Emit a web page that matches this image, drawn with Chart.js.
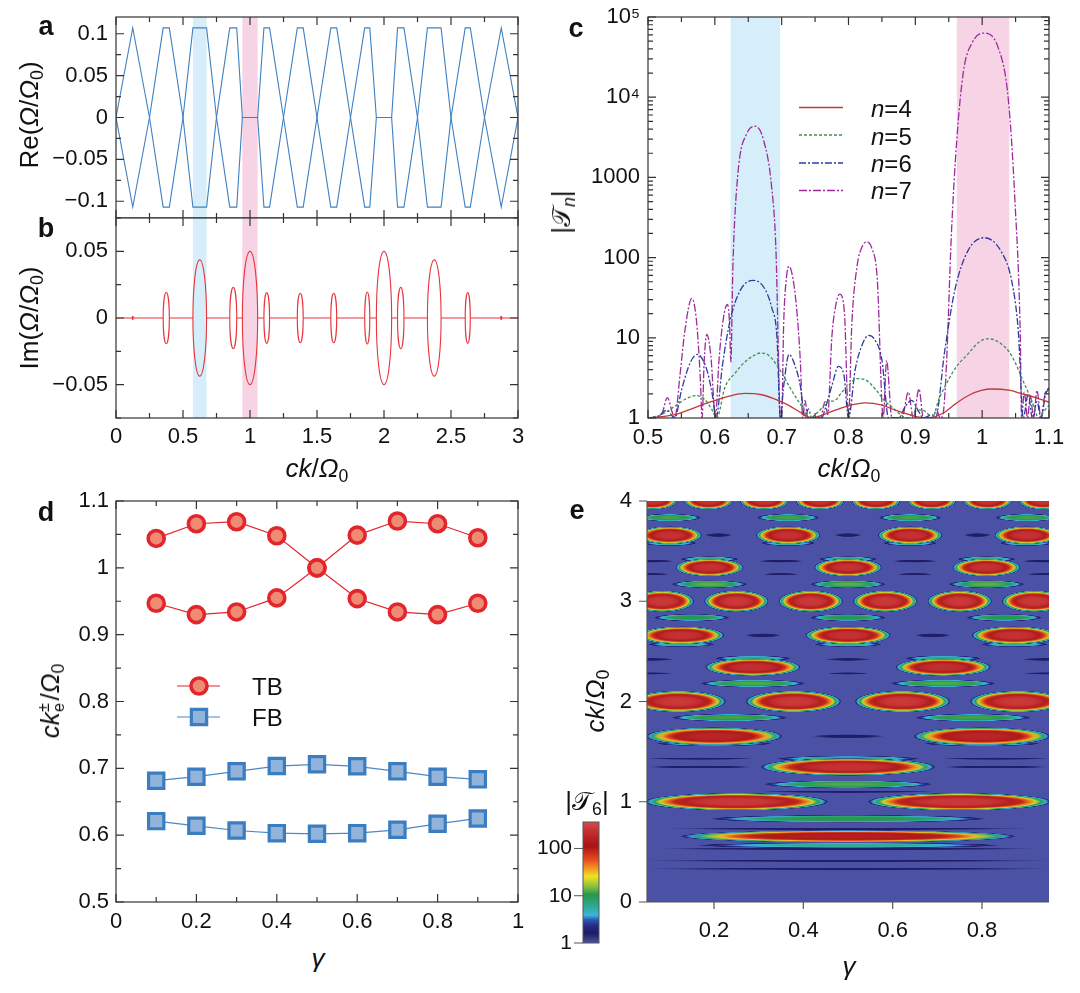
<!DOCTYPE html>
<html>
<head>
<meta charset="utf-8">
<title>Floquet bands and gain</title>
<script src="https://cdn.jsdelivr.net/npm/chart.js@4.4.1/dist/chart.umd.min.js"></script>
<style>
  body { margin: 0; background: #fff; }
  #page { position: relative; width: 1080px; height: 993px; overflow: hidden;
          font-family: "Liberation Sans", Arial, sans-serif; color: #111; }
  .box { position: absolute; }
  .lbl { position: absolute; white-space: nowrap; line-height: 1; transform: translate(-50%, -50%); }
  .rot { transform: translate(-50%, -50%) rotate(-90deg); }
  .lft { transform: translate(0, -50%); }
  .let { font-weight: bold; font-size: 27px; }
  .ttl { font-size: 26px; }
  .leg { font-size: 24px; }
  sub { font-size: 0.68em; vertical-align: -0.28em; line-height: 0; }
  .stk { display: inline-block; position: relative; width: 0.45em; height: 0.7em; }
  .stk span { position: absolute; left: 0.02em; font-size: 0.62em; line-height: 1; }
</style>
</head>
<body>
<div id="page">
  <div class="box" id="bxA"><canvas></canvas></div>
  <div class="box" id="bxB"><canvas></canvas></div>
  <div class="box" id="bxC"><canvas></canvas></div>
  <div class="box" id="bxD"><canvas></canvas></div>
  <div class="box" id="bxE"><canvas></canvas></div>
  <div class="box" id="bxCb"><canvas></canvas></div>

  <div class="lbl let" style="left:46px;top:26px">a</div>
  <div class="lbl let" style="left:46px;top:228px">b</div>
  <div class="lbl let" style="left:576px;top:28px">c</div>
  <div class="lbl let" style="left:46px;top:512px">d</div>
  <div class="lbl let" style="left:577px;top:510px">e</div>

  <div class="lbl ttl rot" style="left:29px;top:115px">Re(<i>Ω</i>/<i>Ω</i><sub>0</sub>)</div>
  <div class="lbl ttl rot" style="left:29px;top:318px">Im(<i>Ω</i>/<i>Ω</i><sub>0</sub>)</div>
  <div class="lbl ttl" style="left:317px;top:468px"><i>ck</i>/<i>Ω</i><sub>0</sub></div>
  <div class="lbl ttl" style="left:849px;top:468px"><i>ck</i>/<i>Ω</i><sub>0</sub></div>
  <div class="lbl ttl rot" style="left:561px;top:212px">|𝒯<sub><i>n</i></sub>|</div>
  <div class="lbl ttl rot" style="left:50px;top:701px"><i>ck</i><span class="stk"><span style="top:-0.35em">±</span><span style="top:0.55em">e</span></span>/<i>Ω</i><sub>0</sub></div>
  <div class="lbl ttl" style="left:318px;top:958px"><i>γ</i></div>
  <div class="lbl ttl rot" style="left:595px;top:701px"><i>ck</i>/<i>Ω</i><sub>0</sub></div>
  <div class="lbl ttl" style="left:849px;top:966px"><i>γ</i></div>
  <div class="lbl ttl" style="left:587px;top:801px">|𝒯<sub>6</sub>|</div>

  <div class="lbl leg lft" style="left:871px;top:109px"><i>n</i>=4</div>
  <div class="lbl leg lft" style="left:871px;top:137px"><i>n</i>=5</div>
  <div class="lbl leg lft" style="left:871px;top:164px"><i>n</i>=6</div>
  <div class="lbl leg lft" style="left:871px;top:191px"><i>n</i>=7</div>
  <div class="lbl leg lft" style="left:252px;top:687px">TB</div>
  <div class="lbl leg lft" style="left:252px;top:718px">FB</div>
</div>
<script>
// ---- panel a: Re(Ω/Ω0) against ck/Ω0 (vertices of the two folded bands)
const reX = [0, 0.125, 0.25, 0.352, 0.398, 0.5, 0.574, 0.676, 0.75, 0.849, 0.901, 0.943, 1.057,
  1.104, 1.146, 1.25, 1.353, 1.397, 1.5, 1.603, 1.647, 1.75, 1.856, 1.894, 1.943, 2.057,
  2.101, 2.149, 2.25, 2.324, 2.426, 2.5, 2.606, 2.644, 2.75, 2.875, 3.0];
const reA = [0, 0.107, 0, -0.107, -0.107, 0, 0.107, 0.107, 0, -0.107, -0.107, 0, 0,
  0.107, 0.107, 0, -0.107, -0.107, 0, 0.107, 0.107, 0, -0.107, -0.107, 0, 0,
  0.107, 0.107, 0, -0.107, -0.107, 0, 0.107, 0.107, 0, -0.107, 0];
const reB = [0, -0.107, 0, 0.107, 0.107, 0, -0.107, -0.107, 0, 0.107, 0.107, 0, 0,
  -0.107, -0.107, 0, 0.107, 0.107, 0, -0.107, -0.107, 0, 0.107, 0.107, 0, 0,
  -0.107, -0.107, 0, 0.107, 0.107, 0, -0.107, -0.107, 0, 0.107, 0];
const reTicks = [-0.1, -0.05, 0, 0.05, 0.1];

// ---- panel b: Im(Ω/Ω0) gap ellipses (centre, half width, half height)
const imC = [0.125, 0.375, 0.625, 0.875, 1.0, 1.125, 1.375, 1.625, 1.875, 2.0, 2.125, 2.375, 2.625, 2.875];
const imW = [0.004, 0.023, 0.051, 0.026, 0.057, 0.021, 0.022, 0.022, 0.019, 0.057, 0.024, 0.051, 0.019, 0.004];
const imH = [0.0012, 0.0193, 0.0436, 0.023, 0.050, 0.019, 0.0186, 0.0186, 0.0195, 0.050, 0.023, 0.0436, 0.019, 0.0012];
const imTicks = [-0.05, 0, 0.05];

// shaded gaps
const bandLoAB = [0.574, 0.943];
const bandHiAB = [0.676, 1.057];
const bandLoC = [0.6235, 0.962];
const bandHiC = [0.6977, 1.0406];
const bandColors = ['#d6eef9', '#f6d4e6'];

// ---- panel c: |T_n| for n = 4..7
const n4X = [0.50, 0.52, 0.54, 0.56, 0.58, 0.60, 0.62, 0.645, 0.67, 0.69, 0.71, 0.73, 0.745, 0.76, 0.78,
  0.80, 0.825, 0.85, 0.87, 0.90, 0.917, 0.94, 0.96, 0.98, 1.00, 1.014, 1.04, 1.06, 1.08, 1.10];
const n4Y = [1.0, 1.04, 1.1, 1.25, 1.45, 1.65, 1.86, 2.03, 1.95, 1.72, 1.45, 1.15, 1.0, 1.08, 1.25,
  1.42, 1.54, 1.45, 1.25, 1.05, 1.0, 1.13, 1.5, 1.92, 2.22, 2.3, 2.22, 2.0, 1.8, 1.58];
const n5X = [0.50, 0.52, 0.54, 0.555, 0.572, 0.585, 0.595, 0.603, 0.615, 0.63, 0.645, 0.66, 0.668, 0.68,
  0.698, 0.71, 0.718, 0.73, 0.742, 0.755, 0.77, 0.78, 0.79, 0.80, 0.812, 0.825, 0.84, 0.855, 0.865, 0.878,
  0.887, 0.90, 0.91, 0.92, 0.925, 0.935, 0.944, 0.96, 0.979, 0.995, 1.007, 1.02, 1.039, 1.05, 1.059,
  1.074, 1.085, 1.092, 1.10];
const n5Y = [1.0, 1.1, 1.4, 1.7, 1.9, 1.7, 1.3, 1.0, 2.4, 3.6, 5.0, 6.1, 6.46, 6.1,
  3.9, 2.6, 2.0, 1.4, 1.0, 1.2, 1.6, 1.66, 2.1, 2.55, 3.1, 3.0, 2.3, 1.6, 1.37, 1.1,
  1.0, 1.2, 1.26, 1.1, 1.0, 1.7, 2.43, 4.2, 6.3, 8.8, 9.7, 9.3, 6.9, 4.8, 3.2,
  1.66, 1.0, 1.2, 1.44];
const n6X = [0.50, 0.515, 0.528, 0.54, 0.55, 0.56, 0.567, 0.574, 0.582, 0.59, 0.597, 0.602, 0.611, 0.623,
  0.638, 0.657, 0.673, 0.685, 0.693, 0.698, 0.703, 0.711, 0.72, 0.728, 0.735, 0.74, 0.745, 0.76, 0.765,
  0.775, 0.785, 0.793, 0.80, 0.81, 0.82, 0.83, 0.84, 0.85, 0.86, 0.875, 0.885, 0.8945, 0.905, 0.912,
  0.925, 0.93, 0.944, 0.959, 0.979, 1.003, 1.029, 1.044, 1.054, 1.0615, 1.069, 1.075, 1.082, 1.088,
  1.095, 1.10];
const n6Y = [1.0, 1.05, 1.25, 1.0, 2.2, 4.2, 5.6, 6.2, 5.3, 3.5, 1.8, 1.0, 4.3, 16.6,
  39, 52, 43, 24, 10, 1.0, 2.5, 6.2, 4.5, 2.5, 1.0, 1.3, 1.0, 1.0, 1.3,
  2.5, 4.4, 3.5, 1.0, 4.0, 8.0, 10.7, 9.3, 5.3, 1.0, 1.0, 1.4, 1.66, 1.2, 1.0,
  1.1, 1.0, 6.9, 39, 123, 177, 117, 52, 12.3, 1.0, 2.0, 1.0, 1.6, 1.0,
  2.0, 2.3];
const n7X = [0.50, 0.52, 0.529, 0.536, 0.54, 0.548, 0.555, 0.5656, 0.572, 0.578, 0.581, 0.584, 0.588,
  0.594, 0.601, 0.606, 0.613, 0.619, 0.622, 0.624, 0.627, 0.634, 0.648, 0.661, 0.673, 0.685, 0.6916,
  0.6967, 0.698, 0.70, 0.703, 0.707, 0.711, 0.716, 0.722, 0.728, 0.7315, 0.735, 0.739, 0.758, 0.765,
  0.769, 0.775, 0.782, 0.787, 0.794, 0.80, 0.805, 0.813, 0.82, 0.827, 0.835, 0.843, 0.852, 0.857,
  0.865, 0.88, 0.8895, 0.897, 0.9055, 0.912, 0.925, 0.932, 0.937, 0.9413, 0.9464, 0.954, 0.962, 0.972,
  0.9845, 1.002, 1.0237, 1.0393, 1.049, 1.057, 1.059, 1.063, 1.068, 1.072, 1.077, 1.082, 1.088, 1.094, 1.10];
const n7Y = [1.0, 1.1, 1.8, 1.2, 1.0, 3.5, 12, 31, 18, 3.5, 1.0, 5, 11,
  6, 1.0, 5, 18, 26, 15, 5, 76, 1000, 3540, 4340, 2900, 760, 113,
  1.7, 1.0, 1.0, 15, 55, 78, 60, 25, 5, 1.0, 1.66, 1.0, 1.0, 1.6,
  1.1, 10, 28, 35, 20, 1.0, 15, 80, 135, 156, 130, 55, 1.0, 5.2,
  1.0, 1.0, 2.1, 1.0, 2.3, 1.0, 1.0, 1.25, 1.0, 1.1, 4.3, 200, 2900, 21000,
  47000, 63000, 42000, 9100, 516, 11, 1.0, 2.1, 1.0, 1.9, 1.0, 2.2, 1.0, 2.0, 2.4];
const cLabels = ['n=4', 'n=5', 'n=6', 'n=7'];
const cDecades = [1, 10, 100, 1000, 1e4, 1e5];

// ---- panel d: edge wavenumbers vs γ
const gam = [0.1, 0.2, 0.3, 0.4, 0.5, 0.6, 0.7, 0.8, 0.9];
const tbA = [1.044, 1.066, 1.069, 1.048, 1.0, 0.954, 0.934, 0.930, 0.947];
const tbB = [0.947, 0.930, 0.934, 0.955, 1.0, 1.049, 1.070, 1.066, 1.045];
const fbA = [0.6815, 0.6875, 0.6955, 0.7034, 0.706, 0.703, 0.6955, 0.6875, 0.6835];
const fbB = [0.621, 0.614, 0.607, 0.603, 0.602, 0.603, 0.608, 0.617, 0.625];

// ---- panel e: |T6| map, maxima rows (ck, γ list, half sizes, colour level 0..1 of the bar)
const peakK = [4.0, 3.658, 3.337, 3.0, 2.66, 2.342, 2.0, 1.653, 1.347, 1.0, 0.655];
const peakG = [
  [0.0625, 0.1875, 0.3125, 0.4375, 0.5625, 0.6875, 0.8125, 0.9375],
  [0.101, 0.366, 0.639, 0.90],
  [0.19, 0.5, 0.81],
  [0.0833, 0.25, 0.4167, 0.5833, 0.75, 0.9167],
  [0.127, 0.5, 0.873],
  [0.287, 0.713],
  [0.12, 0.378, 0.622, 0.88],
  [0.2, 0.8],
  [0.5],
  [0.25, 0.75],
  [0.5]
];
const peakW = [0.055, 0.073, 0.077, 0.073, 0.097, 0.108, 0.108, 0.155, 0.198, 0.208, 0.38];
const peakH = [0.085, 0.09, 0.09, 0.108, 0.09, 0.088, 0.108, 0.09, 0.088, 0.088, 0.062];
const peakLv = [0.93, 0.93, 0.93, 0.95, 0.93, 0.92, 0.95, 0.88, 0.93, 0.95, 0.86];
// side lobes
const lobeK = [3.834, 3.58, 3.42, 3.17, 2.837, 2.57, 2.43, 2.18, 1.839, 1.58, 1.43, 1.174, 0.83, 0.565];
const lobeG = [
  [0.101, 0.366, 0.639, 0.90],
  [0.101, 0.366, 0.639, 0.90],
  [0.19, 0.5, 0.81],
  [0.19, 0.5, 0.81],
  [0.15, 0.5, 0.85],
  [0.127, 0.5, 0.873],
  [0.287, 0.713],
  [0.287, 0.713],
  [0.235, 0.78],
  [0.2, 0.8],
  [0.5], [0.5], [0.5], [0.5]
];
const lobeW = [0.07, 0.06, 0.065, 0.085, 0.085, 0.075, 0.085, 0.118, 0.13, 0.13, 0.16, 0.19, 0.31, 0.34];
const lobeH = [0.038, 0.028, 0.028, 0.038, 0.036, 0.026, 0.028, 0.038, 0.038, 0.026, 0.028, 0.038, 0.038, 0.028];
const lobeLv = [0.42, 0.3, 0.33, 0.44, 0.4, 0.3, 0.32, 0.43, 0.42, 0.3, 0.33, 0.43, 0.4, 0.3];
// dark minima streaks
const dipK = [3.66, 3.40, 3.27, 2.66, 2.42, 2.28, 1.653, 1.43, 1.347, 1.1, 0.73, 0.53, 0.41, 0.33];
const dipG = [
  [0.21, 0.5, 0.79],
  [0.06, 0.35, 0.65, 0.94],
  [0.06, 0.35, 0.65, 0.94],
  [0.31, 0.69],
  [0.06, 0.5, 0.94],
  [0.06, 0.5, 0.94],
  [0.5],
  [0.17, 0.83],
  [0.17, 0.83],
  [0.5], [0.5], [0.5], [0.5], [0.5]
];
const dipW = [0.03, 0.05, 0.04, 0.04, 0.05, 0.045, 0.08, 0.12, 0.12, 0.2, 0.42, 0.45, 0.5, 0.5];
const dipH = [0.02, 0.015, 0.012, 0.02, 0.015, 0.012, 0.02, 0.012, 0.015, 0.012, 0.012, 0.012, 0.01, 0.01];
const dipLv = 0.09;
const cbMax = 363;
const cbTicks = [1, 10, 100];

// colour map of the |T6| bar (level 0 = 1, level 1 = top)
const cmStops = [[0, [75, 82, 165]], [0.08, [30, 28, 100]], [0.14, [36, 44, 130]], [0.19, [44, 84, 180]],
  [0.23, [58, 184, 218]], [0.30, [48, 170, 146]], [0.40, [40, 152, 74]], [0.47, [142, 192, 64]],
  [0.55, [240, 226, 34]], [0.62, [242, 146, 34]], [0.69, [232, 74, 32]], [0.80, [166, 20, 22]],
  [0.92, [196, 46, 48]], [1, [210, 78, 78]]];
function cmap(l, alpha) {
  l = Math.max(0, Math.min(1, l));
  let i = 1;
  while (i < cmStops.length - 1 && cmStops[i][0] < l) i++;
  const [l0, c0] = cmStops[i - 1], [l1, c1] = cmStops[i];
  const t = (l - l0) / (l1 - l0);
  const c = c0.map((v, k) => Math.round(v + (c1[k] - v) * t));
  return 'rgba(' + c.join(',') + ',' + (alpha === undefined ? 1 : alpha) + ')';
}

Chart.defaults.font.family = '"Liberation Sans", Arial, sans-serif';
Chart.defaults.font.size = 22;
Chart.defaults.color = '#111';
Chart.defaults.animation = false;
Chart.defaults.plugins.legend.display = false;
Chart.defaults.plugins.tooltip.enabled = false;

function place(id, area, m) {
  const el = document.getElementById(id);
  el.style.left = (area[0] - m[0]) + 'px';
  el.style.top = (area[1] - m[1]) + 'px';
  el.style.width = (area[2] - area[0] + m[0] + m[2]) + 'px';
  el.style.height = (area[3] - area[1] + m[1] + m[3]) + 'px';
  return el.querySelector('canvas');
}
const fitX = h => s => { s.height = h; s.paddingLeft = 0; s.paddingRight = 0; };
const fitY = w => s => { s.width = w; s.paddingTop = 0; s.paddingBottom = 0; };
const fmt = v => { const r = Math.round(v * 1000) / 1000; return (r < 0 ? '\u2212' : '') + Math.abs(r); };
const pts = (xs, ys) => xs.map((x, i) => ({ x, y: ys[i] }));
const fixTicks = list => s => { s.ticks = list.map(v => ({ value: v })); };

function linScale(min, max, step, pad, fit, extra) {
  return Object.assign({
    type: 'linear', min, max,
    grid: { display: false, drawTicks: false },
    border: { display: false },
    ticks: { stepSize: step, includeBounds: false, autoSkip: false, maxRotation: 0, padding: pad, callback: fmt },
    afterFit: fit
  }, extra || {});
}

function tickList(min, max, major, minor) {
  const out = [];
  const n = Math.round((max - min) / minor);
  for (let i = 0; i <= n; i++) {
    const v = min + i * minor, r = v / major;
    out.push({ v, major: Math.abs(r - Math.round(r)) < 1e-6 });
  }
  return out;
}

// inward ticks on all four sides and the box
function makeFrame(xt, yt, ylog) {
  return {
    id: 'frame',
    afterDatasetsDraw(chart) {
      const { ctx, chartArea: a, scales: { x, y } } = chart;
      ctx.save();
      ctx.strokeStyle = '#333';
      ctx.lineWidth = 1.2;
      ctx.beginPath();
      tickList(...xt).forEach(t => {
        const p = x.getPixelForValue(t.v), L = t.major ? 8 : 5;
        ctx.moveTo(p, a.bottom); ctx.lineTo(p, a.bottom - L);
        ctx.moveTo(p, a.top); ctx.lineTo(p, a.top + L);
      });
      let yl;
      if (ylog) {
        yl = [];
        for (let d = 0; d < 5; d++) {
          for (let k = 1; k < 10; k++) yl.push({ v: k * Math.pow(10, d), major: k === 1 });
        }
        yl.push({ v: 1e5, major: true });
      } else {
        yl = tickList(...yt);
      }
      yl.forEach(t => {
        const p = y.getPixelForValue(t.v), L = t.major ? 8 : 5;
        ctx.moveTo(a.left, p); ctx.lineTo(a.left + L, p);
        ctx.moveTo(a.right, p); ctx.lineTo(a.right - L, p);
      });
      ctx.stroke();
      ctx.strokeRect(a.left, a.top, a.right - a.left, a.bottom - a.top);
      ctx.restore();
    }
  };
}

function makeBands(lo, hi) {
  return {
    id: 'bands',
    beforeDatasetsDraw(chart) {
      const { ctx, chartArea: a, scales: { x } } = chart;
      ctx.save();
      lo.forEach((v, i) => {
        const x1 = x.getPixelForValue(v), x2 = x.getPixelForValue(hi[i]);
        ctx.fillStyle = bandColors[i];
        ctx.fillRect(x1, a.top, x2 - x1, a.bottom - a.top);
      });
      ctx.restore();
    }
  };
}

// ---------------- panel a
new Chart(place('bxA', [116, 17, 518, 218], [116, 17, 30, 0]), {
  type: 'line',
  data: {
    datasets: [reA, reB].map(ys => ({
      data: pts(reX, ys), borderColor: '#3f80c2', borderWidth: 1.1, pointRadius: 0, fill: false
    }))
  },
  options: {
    responsive: true, maintainAspectRatio: false,
    layout: { padding: { left: 0, top: 17, right: 30, bottom: 0 } },
    scales: {
      x: { type: 'linear', min: 0, max: 3, display: false },
      y: linScale(-0.12, 0.12, 0.05, 8, fitY(116), { afterBuildTicks: fixTicks(reTicks) })
    }
  },
  plugins: [makeBands(bandLoAB, bandHiAB), makeFrame([0, 3, 0.5, 0.25], [-0.1, 0.1, 0.05, 0.025])]
});

// ---------------- panel b
const imZero = [{ x: 0, y: 0 }];
imC.forEach((c, i) => { imZero.push({ x: c - imW[i], y: 0 }, { x: c, y: null }, { x: c + imW[i], y: 0 }); });
imZero.push({ x: 3, y: 0 });

const ellipses = {
  id: 'ellipses',
  afterDatasetsDraw(chart) {
    const { ctx, chartArea: a, scales: { x, y } } = chart;
    ctx.save();
    ctx.beginPath(); ctx.rect(a.left, a.top, a.right - a.left, a.bottom - a.top); ctx.clip();
    ctx.strokeStyle = '#e8343a';
    ctx.lineWidth = 1.1;
    const y0 = y.getPixelForValue(0);
    imC.forEach((c, i) => {
      const cx = x.getPixelForValue(c);
      const rx = Math.abs(x.getPixelForValue(c + imW[i]) - cx);
      const ry = Math.abs(y.getPixelForValue(imH[i]) - y0);
      ctx.beginPath();
      ctx.ellipse(cx, y0, rx, Math.max(ry, 0.6), 0, 0, 2 * Math.PI);
      ctx.stroke();
    });
    ctx.restore();
  }
};

new Chart(place('bxB', [116, 218, 518, 418], [116, 14, 30, 40]), {
  type: 'line',
  data: { datasets: [{ data: imZero, borderColor: '#e8343a', borderWidth: 1.1, pointRadius: 0, spanGaps: false }] },
  options: {
    responsive: true, maintainAspectRatio: false,
    layout: { padding: { left: 0, top: 14, right: 30, bottom: 0 } },
    scales: {
      x: linScale(0, 3, 0.5, 6, fitX(40)),
      y: linScale(-0.075, 0.075, 0.05, 8, fitY(116), { afterBuildTicks: fixTicks(imTicks) })
    }
  },
  plugins: [makeBands(bandLoAB, bandHiAB), ellipses, makeFrame([0, 3, 0.5, 0.25], [-0.075, 0.075, 0.05, 0.025])]
});

// ---------------- panel c
const cColors = ['#c03a3a', '#3f8f52', '#2d3b9c', '#9c2c9c'];
const cDash = [[], [3, 2], [7, 2, 2, 2], [8, 2, 2, 2]];
const cSeries = [[n4X, n4Y], [n5X, n5Y], [n6X, n6Y], [n7X, n7Y]];

const legendC = {
  id: 'legendC',
  afterDraw(chart) {
    const { ctx, chartArea: a } = chart;
    const rows = [90.5, 118, 146, 173.5];
    ctx.save();
    cLabels.forEach((lab, i) => {
      ctx.strokeStyle = cColors[i];
      ctx.lineWidth = 1.3;
      ctx.setLineDash(cDash[i]);
      ctx.beginPath();
      ctx.moveTo(a.left + 151, a.top + rows[i]);
      ctx.lineTo(a.left + 195, a.top + rows[i]);
      ctx.stroke();
    });
    ctx.restore();
  }
};

new Chart(place('bxC', [648, 17, 1049, 418], [100, 17, 20, 40]), {
  type: 'line',
  data: {
    datasets: cSeries.map(([xs, ys], i) => ({
      label: cLabels[i], data: pts(xs, ys), borderColor: cColors[i], borderWidth: 1.3,
      borderDash: cDash[i], pointRadius: 0, cubicInterpolationMode: 'monotone', fill: false
    }))
  },
  options: {
    responsive: true, maintainAspectRatio: false,
    layout: { padding: { left: 0, top: 17, right: 20, bottom: 0 } },
    scales: {
      x: linScale(0.5, 1.1, 0.1, 7, fitX(40)),
      y: {
        type: 'logarithmic', min: 1, max: 1e5,
        grid: { display: false, drawTicks: false }, border: { display: false },
        afterBuildTicks: fixTicks(cDecades),
        ticks: {
          autoSkip: false, padding: 8,
          callback: v => v === 1e4 ? '10\u2074' : v === 1e5 ? '10\u2075' : String(v)
        },
        afterFit: fitY(100)
      }
    }
  },
  plugins: [makeBands(bandLoC, bandHiC), makeFrame([0.5, 1.1, 0.1, 0.05], null, true), legendC]
});

// ---------------- panel d
const tbStyle = { borderColor: '#e3262d', backgroundColor: '#ef8b73', borderWidth: 1.2, pointStyle: 'circle',
  pointRadius: 8, pointBorderWidth: 3.6, pointBorderColor: '#e3262d', pointBackgroundColor: '#ef8b73' };
const fbStyle = { borderColor: '#4a88c8', backgroundColor: '#93b4da', borderWidth: 1.2, pointStyle: 'rect',
  pointRadius: 10.8, pointBorderWidth: 3.2, pointBorderColor: '#3a7dc0', pointBackgroundColor: '#93b4da' };

const legendD = {
  id: 'legendD',
  afterDraw(chart) {
    const { ctx, chartArea: a } = chart;
    const x1 = a.left + 61, x2 = a.left + 104, xm = a.left + 83;
    const yT = a.top + 185, yF = a.top + 216;
    ctx.save();
    ctx.lineWidth = 1.2;
    ctx.strokeStyle = tbStyle.borderColor;
    ctx.beginPath(); ctx.moveTo(x1, yT); ctx.lineTo(x2, yT); ctx.stroke();
    ctx.beginPath(); ctx.arc(xm, yT, tbStyle.pointRadius, 0, 2 * Math.PI);
    ctx.fillStyle = tbStyle.pointBackgroundColor; ctx.fill();
    ctx.lineWidth = tbStyle.pointBorderWidth; ctx.stroke();
    ctx.lineWidth = 1.2;
    ctx.strokeStyle = fbStyle.borderColor;
    ctx.beginPath(); ctx.moveTo(x1, yF); ctx.lineTo(x2, yF); ctx.stroke();
    const s = fbStyle.pointRadius * Math.SQRT1_2;
    ctx.fillStyle = fbStyle.pointBackgroundColor;
    ctx.fillRect(xm - s, yF - s, 2 * s, 2 * s);
    ctx.strokeStyle = fbStyle.pointBorderColor;
    ctx.lineWidth = fbStyle.pointBorderWidth;
    ctx.strokeRect(xm - s, yF - s, 2 * s, 2 * s);
    ctx.restore();
  }
};

new Chart(place('bxD', [116, 501, 518, 902], [116, 14, 30, 40]), {
  type: 'line',
  data: {
    datasets: [
      Object.assign({ data: pts(gam, fbA) }, fbStyle),
      Object.assign({ data: pts(gam, fbB) }, fbStyle),
      Object.assign({ data: pts(gam, tbA) }, tbStyle),
      Object.assign({ data: pts(gam, tbB) }, tbStyle)
    ]
  },
  options: {
    responsive: true, maintainAspectRatio: false,
    layout: { padding: { left: 0, top: 14, right: 30, bottom: 0 } },
    scales: {
      x: linScale(0, 1, 0.2, 7, fitX(40)),
      y: linScale(0.5, 1.1, 0.1, 7, fitY(116))
    }
  },
  plugins: [makeFrame([0, 1, 0.2, 0.1], [0.5, 1.1, 0.1, 0.05]), legendD]
});

// ---------------- panel e
const blobs = [];
dipK.forEach((k, i) => dipG[i].forEach(g => blobs.push({ x: g, y: k, w: dipW[i], h: dipH[i], lv: dipLv })));
lobeK.forEach((k, i) => lobeG[i].forEach(g => blobs.push({ x: g, y: k, w: lobeW[i], h: lobeH[i], lv: lobeLv[i] })));
peakK.forEach((k, i) => peakG[i].forEach(g => blobs.push({ x: g, y: k, w: peakW[i], h: peakH[i], lv: peakLv[i] })));

const heat = {
  id: 'heat',
  beforeDatasetsDraw(chart) {
    const { ctx, chartArea: a, scales: { x, y } } = chart;
    ctx.save();
    ctx.beginPath(); ctx.rect(a.left, a.top, a.right - a.left, a.bottom - a.top); ctx.clip();
    ctx.fillStyle = cmap(0);
    ctx.fillRect(a.left, a.top, a.right - a.left, a.bottom - a.top);
    blobs.forEach(b => {
      const cx = x.getPixelForValue(b.x), cy = y.getPixelForValue(b.y);
      const rx = Math.abs(x.getPixelForValue(b.x + b.w) - cx);
      const ry = Math.abs(y.getPixelForValue(b.y + b.h) - cy);
      ctx.save();
      ctx.translate(cx, cy);
      ctx.scale(rx, ry);
      const gr = ctx.createRadialGradient(0, 0, 0, 0, 0, 1);
      [0, 0.3, 0.45, 0.57, 0.67, 0.75, 0.82, 0.88, 0.93, 0.97].forEach(r => gr.addColorStop(r, cmap(b.lv * (1 - Math.pow(r, 4)))));
      gr.addColorStop(1, cmap(0, 0));
      ctx.fillStyle = gr;
      ctx.beginPath(); ctx.arc(0, 0, 1, 0, 2 * Math.PI); ctx.fill();
      ctx.restore();
    });
    ctx.restore();
  },
  afterDatasetsDraw(chart) {
    const { ctx, chartArea: a, scales: { x, y } } = chart;
    ctx.save();
    ctx.strokeStyle = '#555';
    ctx.lineWidth = 1.2;
    ctx.beginPath();
    ctx.moveTo(a.left, a.top); ctx.lineTo(a.left, a.bottom); ctx.lineTo(a.right, a.bottom);
    [0.2, 0.4, 0.6, 0.8].forEach(v => { const p = x.getPixelForValue(v); ctx.moveTo(p, a.bottom); ctx.lineTo(p, a.bottom + 7); });
    [0, 1, 2, 3, 4].forEach(v => { const p = y.getPixelForValue(v); ctx.moveTo(a.left, p); ctx.lineTo(a.left - 8, p); });
    ctx.stroke();
    ctx.restore();
  }
};

new Chart(place('bxE', [647, 501, 1049, 902], [60, 14, 20, 50]), {
  type: 'scatter',
  data: { datasets: [{ data: blobs.map(b => ({ x: b.x, y: b.y })), pointRadius: 0 }] },
  options: {
    responsive: true, maintainAspectRatio: false,
    layout: { padding: { left: 0, top: 14, right: 20, bottom: 0 } },
    scales: {
      x: linScale(0.05, 0.95, 0.2, 16, fitX(50)),
      y: linScale(0, 4, 1, 15, fitY(60))
    }
  },
  plugins: [heat]
});

// ---------------- colour bar
const cbFrame = {
  id: 'cbFrame',
  afterDatasetsDraw(chart) {
    const { ctx, chartArea: a, scales: { y } } = chart;
    ctx.save();
    ctx.strokeStyle = '#555';
    ctx.lineWidth = 1;
    ctx.strokeRect(a.left, a.top, a.right - a.left, a.bottom - a.top);
    ctx.beginPath();
    cbTicks.forEach(v => { const p = y.getPixelForValue(v); ctx.moveTo(a.left, p); ctx.lineTo(a.left - 9, p); });
    ctx.stroke();
    ctx.restore();
  }
};

new Chart(place('bxCb', [583, 822, 599, 943], [45, 12, 5, 12]), {
  type: 'bar',
  data: {
    labels: ['|T6|'],
    datasets: [{
      data: [cbMax], barPercentage: 1, categoryPercentage: 1, borderWidth: 0,
      backgroundColor: c => {
        const a = c.chart.chartArea;
        if (!a) return cmap(0);
        const g = c.chart.ctx.createLinearGradient(0, a.bottom, 0, a.top);
        cmStops.forEach(([l]) => g.addColorStop(l, cmap(l)));
        return g;
      }
    }]
  },
  options: {
    responsive: true, maintainAspectRatio: false,
    layout: { padding: { left: 0, top: 12, right: 5, bottom: 12 } },
    scales: {
      x: { display: false },
      y: {
        type: 'logarithmic', min: 1, max: cbMax,
        grid: { display: false, drawTicks: false }, border: { display: false },
        afterBuildTicks: fixTicks(cbTicks),
        ticks: { autoSkip: false, padding: 11, font: { size: 21 }, callback: v => String(v) },
        afterFit: fitY(45)
      }
    }
  },
  plugins: [cbFrame]
});
</script>
</body>
</html>
